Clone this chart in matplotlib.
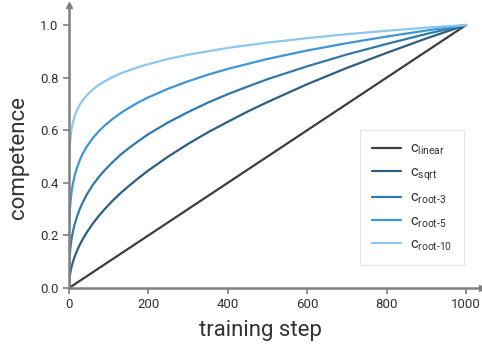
import matplotlib
matplotlib.use("Agg")
import matplotlib.pyplot as plt

plt.rcParams['font.family'] = ['Roboto', 'DejaVu Sans']
plt.rcParams['mathtext.fontset'] = 'custom'
plt.rcParams['mathtext.rm'] = 'Roboto'
plt.rcParams['mathtext.it'] = 'Roboto'
plt.rcParams['mathtext.default'] = 'regular'

steps = [0, 0.1, 0.5, 1, 2, 3, 5, 7, 10, 14, 20, 27, 35, 45, 60, 75, 90, 110, 130, 150,
         175, 200, 250, 300, 350, 400, 450, 500, 600, 700, 800, 900, 1000]
c_linear = [0, .0001, .0005, .001, .002, .003, .005, .007, .010, .014, .020, .027, .035, .045,
            .060, .075, .090, .110, .130, .150, .175, .200, .250, .300, .350, .400, .450, .500,
            .600, .700, .800, .900, 1.0]
c_sqrt = [0, .010, .022, .032, .045, .055, .071, .084, .100, .118, .141, .164, .187, .212,
          .245, .274, .300, .332, .361, .387, .418, .447, .500, .548, .592, .632, .671, .707,
          .775, .837, .894, .949, 1.0]
c_root3 = [0, .046, .079, .100, .126, .144, .171, .191, .215, .241, .271, .300, .327, .356,
           .392, .422, .448, .479, .507, .531, .559, .585, .630, .669, .705, .737, .766, .794,
           .843, .888, .928, .966, 1.0]
c_root5 = [0, .158, .219, .251, .289, .313, .347, .371, .398, .426, .457, .486, .512, .538,
           .570, .596, .618, .643, .665, .684, .706, .725, .758, .786, .811, .833, .852, .871,
           .903, .931, .956, .979, 1.0]
c_root10 = [0, .398, .468, .501, .537, .559, .589, .609, .631, .653, .676, .697, .715, .733,
            .755, .772, .786, .802, .816, .827, .840, .851, .871, .887, .900, .913, .923, .933,
            .950, .965, .978, .990, 1.0]

series = [
    (c_linear, r'$c_{linear}$', '#3d3d3d'),
    (c_sqrt, r'$c_{sqrt}$', '#2e5f7f'),
    (c_root3, r'$c_{root\text{-}3}$', '#3079aa'),
    (c_root5, r'$c_{root\text{-}5}$', '#3f96d4'),
    (c_root10, r'$c_{root\text{-}10}$', '#8cc7ef'),
]

xticks = [0, 200, 400, 600, 800, 1000]
yticks = [0.0, 0.2, 0.4, 0.6, 0.8, 1.0]

fig = plt.figure(figsize=(4.82, 3.5), dpi=100)
ax = fig.add_axes([69/482, 62/350, 413/482, 283/350])

for vals, lab, col in series:
    ax.plot(steps, vals, color=col, lw=1.6, label=lab, solid_capstyle='round')

ax.set_xlim(0, 1040)
ax.set_ylim(0, 1.076)
ax.set_xticks(xticks)
ax.set_yticks(yticks)
ax.set_xticklabels([str(v) for v in xticks])
ax.set_yticklabels([f'{v:.1f}' for v in yticks])

spine_col = '#808080'
for s in ['top', 'right']:
    ax.spines[s].set_visible(False)
for s in ['left', 'bottom']:
    ax.spines[s].set_color(spine_col)
    ax.spines[s].set_linewidth(1.8)
ax.tick_params(axis='both', colors=spine_col, length=4, width=1.2, labelcolor='#333333', labelsize=9.5)

ax.plot(1, 0, '>', transform=ax.transAxes, clip_on=False, color=spine_col, ms=5)
ax.plot(0, 1, '^', transform=ax.transAxes, clip_on=False, color=spine_col, ms=5)

ax.set_xlabel('training step', fontsize=16, color='#333333')
ax.set_ylabel('competence', fontsize=16, color='#333333')
ax.xaxis.set_label_coords((260 - 69) / 413, -0.112)
ax.yaxis.set_label_coords(-0.097, 0.46)

leg = ax.legend(loc='center right', bbox_to_anchor=(0.973, 0.32), fontsize=10.5,
                frameon=True, fancybox=False, handlelength=2.0, labelspacing=0.55,
                borderpad=0.8, handletextpad=0.6)
leg.get_frame().set_edgecolor('#dddddd')
leg.get_frame().set_linewidth(0.8)
for t in leg.get_texts():
    t.set_color('#333333')

fig.savefig('out.png', dpi=100)
